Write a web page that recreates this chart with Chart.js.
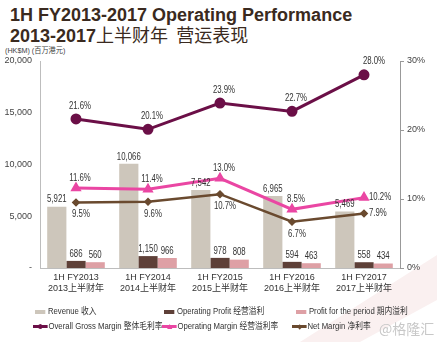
<!DOCTYPE html>
<html><head><meta charset="utf-8">
<script src="https://cdn.jsdelivr.net/npm/chart.js@4.4.1/dist/chart.umd.min.js"></script>
<style>
html,body{margin:0;padding:0;background:#fff;width:437px;height:342px;overflow:hidden;position:relative;font-family:"Liberation Sans",Arial,"Noto Sans CJK SC",sans-serif;}
#bg{position:absolute;left:0;top:0;width:437px;height:342px;background:#faf0f0;clip-path:polygon(437px 255px,437px 300px,360px 342px,300px 342px);}
#c{position:absolute;left:0;top:0;}
.t{position:absolute;left:10px;color:#3a2a20;font-weight:bold;font-size:18px;white-space:nowrap;line-height:20px;}
.t .zh{font-family:"Noto Sans CJK SC",sans-serif;font-weight:normal;}
#unit{position:absolute;left:5px;top:44px;font-size:8px;color:#444;transform:scaleX(0.9);transform-origin:left;white-space:nowrap;}
.lg{position:absolute;font-size:9px;color:#333;white-space:nowrap;line-height:10px;transform:scaleX(0.86);transform-origin:left center;}
.sw{display:inline-block;vertical-align:middle;position:relative;margin-right:3px;}
.mk{position:absolute;left:50%;top:50%;}
#wm{position:absolute;left:379px;top:318px;font-size:14px;color:#c8c8c8;font-family:"Noto Sans CJK SC",sans-serif;white-space:nowrap;}
</style></head>
<body>
<div id="bg"></div>
<div class="t" style="top:5px">1H FY2013-2017 Operating Performance</div>
<div class="t" style="top:24px">2013-2017<span class="zh">上半财年&nbsp;&nbsp;营运表现</span></div>
<div id="unit">(HK$M) (百万港元)</div>
<canvas id="c" width="437" height="342"></canvas>
<div id="legend"></div>
<div id="wm">@格隆汇</div>
<script>
const periodsEn = ['1H FY2013','1H FY2014','1H FY2015','1H FY2016','1H FY2017'];
const periodsZh = ['2013上半财年','2014上半财年','2015上半财年','2016上半财年','2017上半财年'];
const revenue = [5921, 10066, 7542, 6965, 5469];
const operatingProfit = [686, 1150, 978, 594, 558];
const profitForPeriod = [560, 966, 808, 463, 434];
const grossMargin = [21.6, 20.1, 23.9, 22.7, 28.0];
const operatingMargin = [11.6, 11.4, 13.0, 8.5, 10.2];
const netMargin = [9.5, 9.6, 10.7, 6.7, 7.9];
const leftTicks = [0, 5000, 10000, 15000, 20000];
const rightTicks = [0, 10, 20, 30];

const seriesNames = {
  revenue:'Revenue 收入', op:'Operating Profit 经营溢利', profit:'Profit for the period 期内溢利',
  gross:'Overall Gross Margin 整体毛利率', opm:'Operating Margin 经营溢利率', net:'Net Margin 净利率'
};
const colors = {revenue:'#cdc6bb', op:'#5e4038', profit:'#dea0a5', gross:'#6b0f47', opm:'#ea46a3', net:'#6a4a2f'};

// label placement per point (styling, not data)
const placeGross = ['above','above','above','above','aboveR'];
const placeOpm = ['above','above','above','above','right'];
const placeNet = ['below','below','below','below','right'];

const labelFont = '10px "Liberation Sans",Arial,sans-serif';
const fmtNum = v => v.toLocaleString('en-US');
const fmtPct = v => v.toFixed(1) + '%';

const valueLabels = {
  id:'valueLabels',
  afterDatasetsDraw(chart){
    const ctx = chart.ctx;
    chart.data.datasets.forEach((ds,i)=>{
      const meta = chart.getDatasetMeta(i);
      meta.data.forEach((el,j)=>{
        const v = ds.data[j];
        let x = el.x, y = el.y, align='center';
        const p = ds.place ? ds.place[j] : 'bar';
        if (p==='bar'){ y -= 7; }
        else if (p==='above'){ x += 4; y += ds.aboveDy; }
        else if (p==='aboveR'){ x += 10; y -= 14; }
        else if (p==='below'){ x += 5; y += 12; }
        else if (p==='right'){ x += 5; align='left'; }
        ctx.save();
        ctx.font = labelFont;
        ctx.fillStyle = '#333';
        ctx.textBaseline = 'middle';
        ctx.textAlign = align;
        ctx.translate(x, y);
        ctx.scale(0.78, 1);
        ctx.fillText(ds.type==='line' ? fmtPct(v) : fmtNum(v), 0, 0);
        ctx.restore();
      });
    });
  }
};

const barCommon = {type:'bar', yAxisID:'y', categoryPercentage:0.8, barPercentage:1.0, order:2};
const lineCommon = {type:'line', yAxisID:'y1', order:1, fill:false, tension:0};
const tickFont = {size:9, family:'"Liberation Sans",Arial,"Noto Sans CJK SC",sans-serif'};

new Chart(document.getElementById('c'), {
  data:{
    labels: periodsEn.map((e,i)=>[e, periodsZh[i]]),
    datasets:[
      {...barCommon, label:seriesNames.revenue, data:revenue, backgroundColor:colors.revenue},
      {...barCommon, label:seriesNames.op, data:operatingProfit, backgroundColor:colors.op},
      {...barCommon, label:seriesNames.profit, data:profitForPeriod, backgroundColor:colors.profit},
      {...lineCommon, label:seriesNames.gross, data:grossMargin, borderColor:colors.gross, backgroundColor:colors.gross,
        borderWidth:3, pointStyle:'circle', pointRadius:4, place:placeGross, aboveDy:-13},
      {...lineCommon, label:seriesNames.opm, data:operatingMargin, borderColor:colors.opm, backgroundColor:colors.opm,
        borderWidth:3, pointStyle:'triangle', pointRadius:3.5, place:placeOpm, aboveDy:-10},
      {...lineCommon, label:seriesNames.net, data:netMargin, borderColor:colors.net, backgroundColor:colors.net,
        borderWidth:2.5, pointStyle:'rectRot', pointRadius:2.5, place:placeNet, aboveDy:-10}
    ]
  },
  options:{
    responsive:false, animation:false, devicePixelRatio:1,
    layout:{padding:{top:61,bottom:44,left:0,right:0}},
    plugins:{legend:{display:false}, tooltip:{enabled:false}},
    scales:{
      x:{
        grid:{display:false, drawTicks:false}, border:{display:true,color:'#bdbdbd',width:1},
        ticks:{font:{...tickFont, lineHeight:1.2},color:'#333',padding:4,maxRotation:0},
        afterFit:s=>{s.height=30;}
      },
      y:{
        position:'left', min:0, max:20000,
        afterBuildTicks:s=>{s.ticks = leftTicks.map(v=>({value:v}));},
        grid:{display:false, drawTicks:false}, border:{display:true,color:'#bdbdbd',width:1},
        ticks:{padding:8,color:'#444',font:tickFont,
          callback:v=> v===0 ? '-' : fmtNum(v)},
        afterFit:s=>{s.width=40;}
      },
      y1:{
        position:'right', min:0, max:30,
        afterBuildTicks:s=>{s.ticks = rightTicks.map(v=>({value:v}));},
        grid:{display:true,drawOnChartArea:false,tickLength:4,color:'#999'},
        border:{display:true,color:'#999',width:1},
        ticks:{padding:3,color:'#444',font:tickFont,
          callback:v=> v+'%'},
        afterFit:s=>{s.width=37;}
      }
    }
  },
  plugins:[valueLabels]
});

// HTML legend built from series names/colors
const legendItems = [
  {key:'revenue', kind:'bar', x:35, y:306},
  {key:'op', kind:'bar', x:164, y:306},
  {key:'profit', kind:'bar', x:296, y:306},
  {key:'gross', kind:'line', mk:'circle', x:33, y:321},
  {key:'opm', kind:'line', mk:'tri', x:162, y:321},
  {key:'net', kind:'line', mk:'dia', x:292, y:321}
];
const lg = document.getElementById('legend');
legendItems.forEach(it=>{
  const d = document.createElement('div');
  d.className='lg'; d.style.left=it.x+'px'; d.style.top=it.y+'px';
  const sw = document.createElement('span'); sw.className='sw';
  const c = colors[it.key];
  if (it.kind==='bar'){ sw.style.width='12px'; sw.style.height='4px'; sw.style.background=c; }
  else {
    sw.style.width='17px'; sw.style.height='3px'; sw.style.background=c; sw.style.marginRight='1px';
    const m = document.createElement('span'); m.className='mk';
    if (it.mk==='circle'){ m.style.cssText+=`width:5px;height:5px;border-radius:50%;background:${c};margin:-2.5px 0 0 -2.5px;`; }
    else if (it.mk==='tri'){ m.style.cssText+=`width:0;height:0;border-left:3px solid transparent;border-right:3px solid transparent;border-bottom:5px solid ${c};margin:-3px 0 0 -3px;`; }
    else { m.style.cssText+=`width:4px;height:4px;background:${c};transform:rotate(45deg);margin:-2px 0 0 -2px;`; }
    sw.appendChild(m);
  }
  d.appendChild(sw);
  d.appendChild(document.createTextNode(seriesNames[it.key]));
  lg.appendChild(d);
});
</script>
</body></html>
